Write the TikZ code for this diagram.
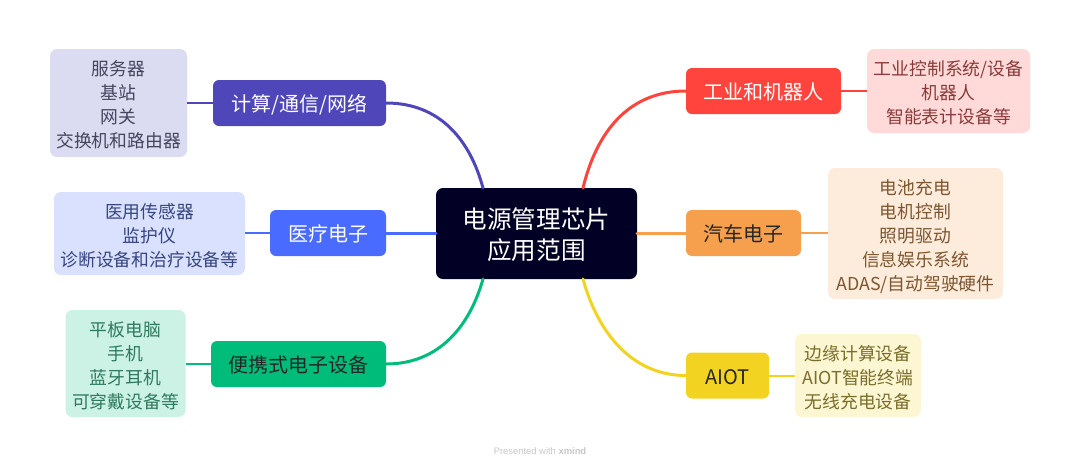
\documentclass[tikz,border=0pt]{standalone}
\usepackage{fontspec}
\setmainfont{Noto Sans CJK SC}
\newfontfamily\wm{Liberation Sans}
\newcommand{\dn}[1]{\vbox{\kern8pt\hbox{\begin{tabular}{@{}c@{}}#1\end{tabular}}}}
\definecolor{cRoot}{HTML}{020024}
\definecolor{cPurple}{HTML}{4F46BA}
\definecolor{cBlue}{HTML}{4A6BFF}
\definecolor{cGreen}{HTML}{00BC7B}
\definecolor{cRed}{HTML}{FF443D}
\definecolor{cOrange}{HTML}{F6A04D}
\definecolor{cYellow}{HTML}{F3D321}
\definecolor{fPurple}{HTML}{DBDBF1}
\definecolor{fBlue}{HTML}{DAE1FF}
\definecolor{fGreen}{HTML}{CCF2E5}
\definecolor{fRed}{HTML}{FFDAD8}
\definecolor{fOrange}{HTML}{FDECDB}
\definecolor{fYellow}{HTML}{FCF6D3}
\definecolor{tPurple}{HTML}{45455F}
\definecolor{tBlue}{HTML}{36457F}
\definecolor{tGreen}{HTML}{2E7A5E}
\definecolor{tRed}{HTML}{8A3A3A}
\definecolor{tOrange}{HTML}{7D5630}
\definecolor{tYellow}{HTML}{7A6E2A}
\tikzset{
  x=1pt,y=-1pt,
  box/.style={inner sep=0pt,outer sep=0pt,rounded corners=7pt},
  rootbox/.style={box,fill=cRoot,text=white,minimum width=201pt,minimum height=91pt,font=\fontsize{24.6}{31.5}\selectfont},
  branch/.style={box,rounded corners=6pt,minimum height=46pt,font=\fontsize{20}{24}\selectfont},
  leaf/.style={box,font=\fontsize{17.8}{24}\selectfont},
  trunk/.style={line width=3pt,line cap=round},
  twig/.style={line width=2pt},
}
\begin{document}
\begin{tikzpicture}
\useasboundingbox (0,0) rectangle (1080,467);
% root
\node[rootbox] (root) at (536.5,233.5) {\dn{电源管理芯片\\应用范围}};
\coordinate (rootNW) at (483,188);
\coordinate (rootNE) at (583,188);
\coordinate (rootSW) at (483,279);
\coordinate (rootSE) at (583,279);
% branches
\node[branch,fill=cPurple,text=white,minimum width=173pt] (compute) at (299.5,103) {\dn{计算/通信/网络}};
\node[branch,fill=cBlue,text=white,minimum width=116pt] (medical) at (328,233) {\dn{医疗电子}};
\node[branch,fill=cGreen,text=black!85,minimum width=175pt] (portable) at (298.5,364) {\dn{便携式电子设备}};
\node[branch,fill=cRed,text=white,minimum width=155pt] (industry) at (763.5,91) {\dn{工业和机器人}};
\node[branch,fill=cOrange,text=black!85,minimum width=115pt] (auto) at (743.5,233) {\dn{汽车电子}};
\node[branch,fill=cYellow,text=black!85,minimum width=83pt] (aiot) at (727.5,375.5) {\dn{AIOT}};
% leaves
\node[leaf,fill=fPurple,text=tPurple,minimum width=137pt,minimum height=108pt] (leafCompute) at (118.5,103) {\dn{服务器\\基站\\网关\\交换机和路由器}};
\node[leaf,fill=fBlue,text=tBlue,minimum width=191pt,minimum height=83pt] (leafMedical) at (149.5,233.5) {\dn{医用传感器\\监护仪\\诊断设备和治疗设备等}};
\node[leaf,fill=fGreen,text=tGreen,minimum width=120pt,minimum height=107pt] (leafPortable) at (125.5,363.5) {\dn{平板电脑\\手机\\蓝牙耳机\\可穿戴设备等}};
\node[leaf,fill=fRed,text=tRed,minimum width=163pt,minimum height=84pt] (leafIndustry) at (948.5,91) {\dn{工业控制系统/设备\\机器人\\智能表计设备等}};
\node[leaf,fill=fOrange,text=tOrange,minimum width=175pt,minimum height=131pt] (leafAuto) at (915.5,233.5) {\dn{电池充电\\电机控制\\照明驱动\\信息娱乐系统\\ADAS/自动驾驶硬件}};
\node[leaf,fill=fYellow,text=tYellow,minimum width=126pt,minimum height=83pt] (leafAiot) at (858,375.5) {\dn{边缘计算设备\\AIOT智能终端\\无线充电设备}};
% trunks
\draw[trunk,cPurple] (compute.east) .. controls (440,103) and (470,140) .. (rootNW);
\draw[trunk,cBlue] (medical.east) -- (root.west |- medical.east);
\draw[trunk,cGreen] (portable.east) .. controls (440,364) and (470,325) .. (rootSW);
\draw[trunk,cRed] (industry.west) .. controls (630,91) and (597,130) .. (rootNE);
\draw[trunk,cOrange] (auto.west) -- (root.east |- auto.west);
\draw[trunk,cYellow] (aiot.west) .. controls (630,375.5) and (597,330) .. (rootSE);
% twigs
\draw[twig,cPurple] (compute.west) -- (leafCompute.east |- compute.west);
\draw[twig,cBlue] (medical.west) -- (leafMedical.east |- medical.west);
\draw[twig,cGreen] (portable.west) -- (leafPortable.east |- portable.west);
\draw[twig,cRed] (industry.east) -- (leafIndustry.west |- industry.east);
\draw[twig,cOrange] (auto.east) -- (leafAuto.west |- auto.east);
\draw[twig,cYellow] (aiot.east) -- (leafAiot.west |- aiot.east);
% watermark
\node[inner sep=0pt,text=black!22,font=\wm\fontsize{9.4}{10}\selectfont] (mark) at (540,451.5) {Presented with \textbf{xmind}};
\end{tikzpicture}
\end{document}
